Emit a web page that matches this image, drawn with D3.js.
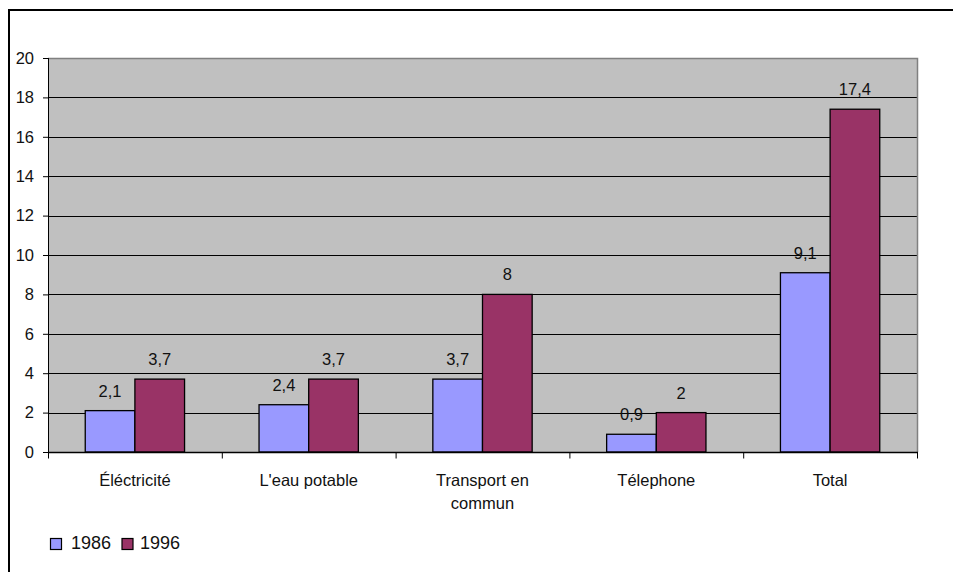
<!DOCTYPE html>
<html><head><meta charset="utf-8">
<script src="https://cdn.jsdelivr.net/npm/d3@7"></script>
<style>body{margin:0;background:#fff}svg{display:block;font-family:"Liberation Sans",Arial,sans-serif}</style>
</head><body>
<script>
const categories = [["Éléctricité"], ["L'eau potable"], ["Transport en", "commun"], ["Télephone"], ["Total"]];
const seriesNames = ["1986", "1996"];
const values1986 = [2.1, 2.4, 3.7, 0.9, 9.1];
const values1996 = [3.7, 3.7, 8, 2, 17.4];
const labels1986 = ["2,1", "2,4", "3,7", "0,9", "9,1"];
const labels1996 = ["3,7", "3,7", "8", "2", "17,4"];
const yTicks = [0, 2, 4, 6, 8, 10, 12, 14, 16, 18, 20];
const colors = ["#9999FF", "#993366"];

(function draw() {
const W = 953, H = 572;
const svg = d3.select("body").append("svg").attr("width", W).attr("height", H);
svg.append("rect").attr("width", W).attr("height", H).attr("fill", "#fff");
// outer chart border
svg.append("rect").attr("x", 9).attr("y", 10).attr("width", 1000).attr("height", 1000)
  .attr("fill", "none").attr("stroke", "#000").attr("stroke-width", 2);

const pL = 48, pR = 917, pT = 58, pB = 452;
const idx = categories.map((d, i) => i);
const x = d3.scaleBand().domain(idx).range([pL, pR]).paddingInner(0).paddingOuter(0);
const xs = d3.scaleBand().domain(seriesNames).range([0, x.bandwidth()]).paddingInner(0).paddingOuter(0.75);
const y = d3.scaleLinear().domain([0, 20]).range([pB, pT]);

svg.append("rect").attr("x", pL).attr("y", pT).attr("width", pR - pL).attr("height", pB - pT).attr("fill", "#C0C0C0");
// gridlines
svg.append("g").selectAll("line").data(yTicks.filter(t => t > 0 && t < 20)).join("line")
  .attr("x1", pL).attr("x2", pR).attr("y1", d => Math.round(y(d)) + 0.5).attr("y2", d => Math.round(y(d)) + 0.5)
  .attr("stroke", "#000").attr("stroke-width", 1);
// plot border top/right
svg.append("path").attr("d", `M${pL},${pT + 0.5}H${pR + 0.5}V${pB}`).attr("fill", "none").attr("stroke", "#808080").attr("stroke-width", 1.5);

const series = [values1986, values1996];
const labs = [labels1986, labels1996];
series.forEach((vals, s) => {
  const g = svg.append("g");
  g.selectAll("rect").data(vals).join("rect")
    .attr("x", (d, i) => x(i) + xs(seriesNames[s]))
    .attr("y", d => y(d))
    .attr("width", xs.bandwidth())
    .attr("height", d => y(0) - y(d))
    .attr("fill", colors[s]).attr("stroke", "#000").attr("stroke-width", 1.3);
  g.selectAll("text").data(vals).join("text")
    .attr("x", (d, i) => x(i) + xs(seriesNames[s]) + xs.bandwidth() / 2)
    .attr("y", d => y(d) - 14)
    .attr("text-anchor", "middle").attr("font-size", 16.5).attr("fill", "#111")
    .text((d, i) => labs[s][i]);
});

// y axis
const yAxis = svg.append("g").attr("transform", `translate(${pL},0)`)
  .call(d3.axisLeft(y).tickValues(yTicks).tickSize(5).tickPadding(9).tickFormat(d3.format("d")));
yAxis.select(".domain").attr("stroke", "#000").attr("d", `M0.5,${pT}V${pB}`);
yAxis.selectAll("line").attr("stroke", "#000");
yAxis.selectAll("text").attr("font-size", 16.5).attr("fill", "#111").attr("font-family", "Liberation Sans, Arial, sans-serif");

// x axis
const xAxisG = svg.append("g").attr("transform", `translate(0,${pB + 0.5})`);
xAxisG.append("line").attr("x1", pL).attr("x2", pR + 1).attr("stroke", "#000").attr("stroke-width", 1.3);
const bounds = d3.range(categories.length + 1).map(i => pL + i * x.step());
xAxisG.selectAll(".tk").data(bounds).join("line").attr("class", "tk")
  .attr("x1", d => d + 0.5).attr("x2", d => d + 0.5).attr("y1", 0).attr("y2", 6).attr("stroke", "#000");
xAxisG.selectAll(".cl").data(categories).join("text").attr("class", "cl")
  .attr("text-anchor", "middle").attr("font-size", 16.5).attr("fill", "#111")
  .attr("transform", (d, i) => `translate(${x(i) + x.bandwidth() / 2},${485 - pB})`)
  .each(function(d) {
    d3.select(this).selectAll("tspan").data(d).join("tspan")
      .attr("x", 0).attr("dy", (t, j) => j === 0 ? 0 : 23).text(t => t);
  });

// legend
const legend = svg.append("g");
const legX = [50, 121.5];
const legTX = [71, 140];
seriesNames.forEach((n, i) => {
  legend.append("rect").attr("x", legX[i] + 0.5).attr("y", 538.5).attr("width", 11).attr("height", 11)
    .attr("fill", colors[i]).attr("stroke", "#000").attr("stroke-width", 1.2);
  legend.append("text").attr("x", legTX[i]).attr("y", 549).attr("font-size", 18).attr("fill", "#111").text(n);
});
})();
</script>
</body></html>
